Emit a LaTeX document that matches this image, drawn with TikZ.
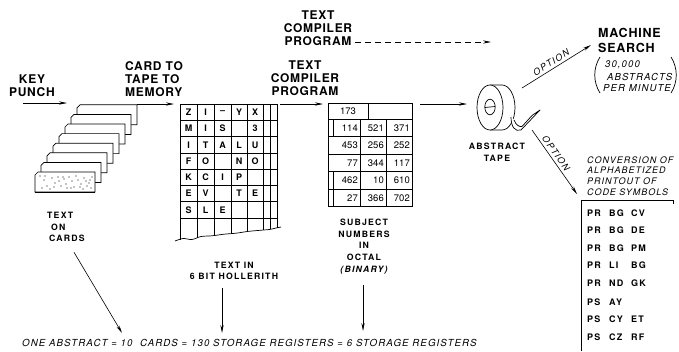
\documentclass[tikz,border=0pt]{standalone}
\usepackage{fontspec}
\setmainfont{TeX Gyre Heros}
\newfontfamily\headfont[LetterSpace=6]{TeX Gyre Heros}
\newfontfamily\labelfont[LetterSpace=14]{TeX Gyre Heros}
\newfontfamily\notefont[LetterSpace=11]{TeX Gyre Heros}
\usetikzlibrary{arrows.meta}

\begin{document}
\begin{tikzpicture}[x=1pt,y=-1pt,
  head/.style={font=\headfont\bfseries\fontsize{12}{13}\selectfont, inner sep=0pt},
  lbl/.style={font=\labelfont\bfseries\fontsize{8.7}{11.7}\selectfont, inner sep=0pt, align=center},
  itl/.style={font=\notefont\itshape\fontsize{9}{11}\selectfont, inner sep=0pt},
  opt/.style={font=\labelfont\itshape\fontsize{9}{9}\selectfont, inner sep=0pt},
  cell/.style={font=\bfseries\fontsize{9}{9}\selectfont, inner sep=0pt},
  num/.style={font=\fontsize{9.5}{9.5}\selectfont, inner sep=0pt, anchor=east},
  code/.style={font=\labelfont\bfseries\fontsize{9}{9}\selectfont, inner sep=0pt, anchor=west},
  arr/.style={-{Stealth[length=8pt,width=3.2pt]}, line width=0.6pt},
  ink/.style={line width=0.7pt},
]
\useasboundingbox (0,0) rectangle (679,351);

% ---------- headings and main flow arrows ----------
\node[head, align=center] (keypunch) at (32,86) {KEY\\PUNCH};
\coordinate (kp-a) at (23,103); \coordinate (kp-b) at (67,103);
\draw[arr] (kp-a) -- (kp-b);

\node[head, align=left, anchor=west] (cardtape) at (125,79) {CARD TO\\TAPE TO\\MEMORY};
\coordinate (ct-a) at (137,104); \coordinate (ct-b) at (174,104);
\draw[arr] (ct-a) -- (ct-b);

\node[head, align=center] (compiler) at (305,78.5) {TEXT\\COMPILER\\PROGRAM};
\coordinate (tc-a) at (280,104); \coordinate (tc-b) at (323,104);
\draw[arr] (tc-a) -- (tc-b);

\node[head, align=center] (compiler2) at (318,28.5) {TEXT\\COMPILER\\PROGRAM};
\coordinate (dc-b) at (491,42);
\draw[arr, dash pattern=on 6pt off 4pt] (compiler2.east |- 0,42) ++(3,0) coordinate (dc-a) -- (dc-b);

\coordinate (tp-a) at (420,104); \coordinate (tp-b) at (467,104);
\draw[arr] (tp-a) -- (tp-b);

% ---------- stack of punched cards ----------
\foreach \k in {7,6,...,0} {
  \pgfmathsetmacro\cx{35+6*\k}
  \pgfmathsetmacro\cy{172-9.6*\k}
  \draw[ink, fill=white] (\cx,\cy+20) -- (\cx,\cy+3) -- (\cx+3,\cy) -- (\cx+60,\cy) -- (\cx+60,\cy+20) -- cycle;
}
\draw[ink] (35,192.5) -- (95,192.5);
\foreach \p in {(40,176),(44,180),(47,186),(52,178),(55,183),(58,177),(61,186),(64,179),
                (66,184),(69,177),(72,181),(74,187),(78,180),(81,184),(84,178),(87,186),
                (90,180),(92,177),(42,188),(50,189),(59,181),(71,188),(83,189),(89,183),
                (45,176),(63,177),(76,176),(86,181),(54,187),(67,188),(80,187),(91,188)}
  \fill \p circle (0.7);

\node[lbl, align=left, anchor=north west] (oncards) at (47,212) {TEXT\\\hspace{4pt}ON\\\hspace{2pt}CARDS};

% ---------- letter grid (text in 6 bit Hollerith) ----------
\foreach \r in {0,...,7}
  \draw[ink] (180,104+16.3*\r) -- (277,104+16.3*\r);
\foreach \x/\yb in {180/240, 197/237.8, 214/235.6, 231/233.6, 247/231.6, 263/230, 270/229.4, 277/228}
  \draw[ink] (\x,104) -- (\x,\yb);
\draw[ink] plot[smooth] coordinates {(175,241)(183,238.5)(192,239.5)(201,236.5)(212,235.8)
  (224,234.2)(236,233.2)(248,231.4)(260,230.3)(270,229.4)(276,228)(281,227)};

\foreach \row [count=\r from 0] in {{Z,I,--,Y,X},{M,I,S,,3},{I,T,A,L,U},{F,O,,N,O},{K,C,I,P,},{E,V,,T,E},{S,L,E,,}} {
  \foreach \ch [count=\c from 0] in \row {
    \pgfmathsetmacro\lx{\c==0 ? 188.5 : (\c==1 ? 205.5 : (\c==2 ? 222.5 : (\c==3 ? 239 : 255)))}
    \node[cell] at (\lx,112.2+16.3*\r) {\ch};
  }
}

\node[lbl] (holl) at (234,271) {TEXT IN\\6 BIT HOLLERITH};

% ---------- octal number grid ----------
\draw[ink] (328,103) rectangle (412,206);
\foreach \y in {119,136.5,154,171.5,189}
  \draw[ink] (328,\y) -- (412,\y);
\draw[ink] (368,103) -- (368,119);
\draw[ink] (333,119) -- (333,136.5);
\draw[ink] (333,171.5) -- (333,206);
\draw[ink] (360,119) -- (360,206);
\draw[ink] (386,119) -- (386,206);
\node[font=\fontsize{9.5}{9.5}\selectfont, inner sep=0pt] at (348,111) {173};
\foreach \a/\b/\c [count=\r from 0] in {114/521/371, 453/256/252, 77/344/117, 462/10/610, 27/366/702} {
  \node[num] at (358,127.8+17.5*\r) {\a};
  \node[num] at (384,127.8+17.5*\r) {\b};
  \node[num] at (410,127.8+17.5*\r) {\c};
}

\node[lbl] (subject) at (364,246.5) {SUBJECT\\NUMBERS\\IN\\OCTAL\\{\itshape(BINARY)}};

% ---------- abstract tape reel ----------
\draw[ink, fill=white] (490,85) -- (502,85) arc[start angle=-90, end angle=90, x radius=13, y radius=22.5] -- (490,130);
\draw[ink, fill=white] (490,107.5) ellipse [x radius=13, y radius=22.5];
\draw[ink] (490,107) ellipse [x radius=5.2, y radius=7.8];
\draw[ink] (484.8,107.5) -- (495.2,106.5);
\draw[ink, fill=white, line join=round] (511,117) .. controls (511,127) and (515,132) .. (521,130)
   -- (540,110) -- (532,115.5) -- (522,126.5) .. controls (519,127) and (516,125) .. (514,120);
\node[lbl] (tape) at (497,152) {ABSTRACT\\TAPE};

% ---------- machine search branch ----------
\node[head, align=left, anchor=west, font=\headfont\bfseries\fontsize{12.5}{14.5}\selectfont] (search) at (598,40.5) {MACHINE\\SEARCH};
\node[itl, anchor=west, font=\notefont\itshape\fontsize{9.6}{9.6}\selectfont] (rate1) at (605,65) {30,000};
\node[itl, anchor=west, font=\notefont\itshape\fontsize{9.6}{9.6}\selectfont] (rate2) at (607,76.5) {ABSTRACTS};
\node[itl, anchor=west, font=\notefont\itshape\fontsize{9.6}{9.6}\selectfont] (rate3) at (603,88) {PER MINUTE};
\draw[ink] (600,57) .. controls (593,68) and (593,82) .. (600,93);
\draw[ink] (671,57) .. controls (678,68) and (678,82) .. (671,93);
\coordinate (ms-a) at (522,88); \coordinate (ms-b) at (591,45);
\draw[arr] (ms-a) -- node[opt, sloped, above=2.5pt, pos=0.47] (opt1) {OPTION} (ms-b);

% ---------- printout branch ----------
\coordinate (pr-a) at (532,130); \coordinate (pr-b) at (577,194);
\draw[arr] (pr-a) -- node[opt, sloped, above=2.5pt, pos=0.42] (opt2) {OPTION} (pr-b);
\node[itl, align=left, anchor=west, font=\notefont\itshape\fontsize{9}{10.7}\selectfont] (conv) at (587,176) {CONVERSION OF\\ALPHABETIZED\\PRINTOUT OF\\CODE SYMBOLS};
\draw[ink] (581,351) -- (581,200) -- (673,200) -- (673,204);
\foreach \a/\b/\c [count=\r from 0] in {PR/BG/CV, PR/BG/DE, PR/BG/PM, PR/LI/BG, PR/ND/GK, PS/AY/, PS/CY/ET, PS/CZ/RF} {
  \pgfmathsetmacro\ly{213+17.5*\r+(\r>4 ? 1.5 : 0)}
  \node[code] at (587,\ly) {\a};
  \node[code] at (609,\ly) {\b};
  \node[code] at (631,\ly) {\c};
}

% ---------- storage summary ----------
\node[itl, anchor=west, font=\notefont\itshape\fontsize{9.7}{9.7}\selectfont] (summary) at (22,343)
  {ONE ABSTRACT = 10\ \ CARDS = 130 STORAGE REGISTERS = 6 STORAGE REGISTERS};
\coordinate (s-cards) at (122,333);
\coordinate (s-holl) at (222,333);
\coordinate (s-oct) at (363,331);
\draw[arr] (oncards.south west) ++(27,10) coordinate (oc-a) -- (s-cards);
\coordinate (ho-a) at (222,288);
\draw[arr] (ho-a) -- (s-holl);
\coordinate (su-a) at (363,285);
\draw[arr] (su-a) -- (s-oct);
\end{tikzpicture}
\end{document}
